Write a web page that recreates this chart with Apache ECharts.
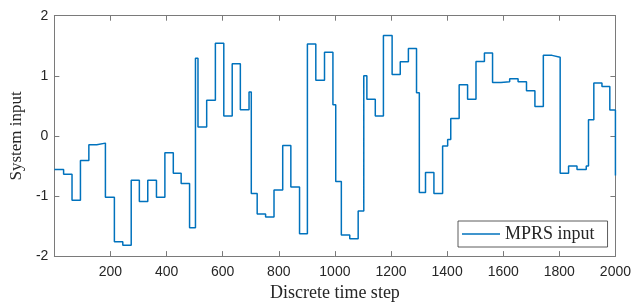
<!DOCTYPE html>
<html>
<head>
<meta charset="utf-8">
<script src="https://cdn.jsdelivr.net/npm/echarts@6/dist/echarts.min.js"></script>
<style>
html,body{margin:0;padding:0;background:#fff;}
#chart{width:634px;height:307px;}
</style>
</head>
<body>
<div id="chart"></div>
<script>
// Step start positions (discrete time step) and held input values
const stepStart = [0,33,63,93,123,151,182,214,244,274,303,333,364,394,424,452,482,503,512,543,574,604,634,663,694,702,723,753,783,814,843,874,902,932,963,993,1003,1023,1053,1083,1103,1114,1144,1173,1204,1233,1262,1291,1301,1323,1353,1384,1402,1413,1443,1473,1503,1533,1562,1592,1623,1653,1683,1713,1743,1774,1803,1833,1863,1896,1904,1923,1952,1980,2000];
const stepValue = [-0.56,-0.64,-1.07,-0.41,-0.149,-0.12,-1.02,-1.76,-1.82,-0.74,-1.09,-0.74,-1.02,-0.28,-0.62,-0.79,-1.53,1.29,0.149,0.595,1.54,0.33,1.2,0.435,0.73,-0.96,-1.30,-1.35,-0.90,-0.16,-0.85,-1.63,1.53,0.925,1.39,0.52,-0.76,-1.65,-1.71,-1.25,1.0,0.61,0.33,1.67,1.02,1.235,1.455,0.72,-0.94,-0.61,-0.96,-0.17,-0.06,0.29,0.85,0.61,1.24,1.38,0.89,0.90,0.95,0.90,0.75,0.49,1.34,1.31,-0.62,-0.50,-0.56,-0.50,0.27,0.88,0.82,0.43,-0.66];
const seriesName = 'MPRS input';
const xTitle = 'Discrete time step';
const yTitle = 'System input';
const xRange = [0, 2000, 200];
const yRange = [-2, 2, 1];

const data = stepStart.map((x, i) => [x, stepValue[i]]);
const axisGray = '#7a7a7a';
const textColor = '#262626';
const serif = '"Liberation Serif", "Times New Roman", serif';
const sans = '"Liberation Sans", Arial, sans-serif';

const chart = echarts.init(document.getElementById('chart'), null, {renderer: 'canvas'});
function baseAxis() {
  return {
    axisLine: {show: true, onZero: false, lineStyle: {color: axisGray, width: 1}},
    axisTick: {show: true, inside: true, length: 5, lineStyle: {color: axisGray, width: 1}},
    splitLine: {show: false}
  };
}
const plain = v => String(v);
chart.setOption({
  animation: false,
  backgroundColor: '#fff',
  grid: {left: 46.5, top: 15.7, width: 570, height: 242, containLabel: false},
  legend: {
    data: [{name: seriesName, icon: 'rect'}],
    left: 458, top: 221,
    orient: 'horizontal',
    itemWidth: 38, itemHeight: 1.6,
    padding: [4, 13, 4, 4],
    borderColor: '#333', borderWidth: 0.8,
    backgroundColor: '#fff',
    textStyle: {fontFamily: serif, fontSize: 18, color: textColor}
  },
  xAxis: [
    Object.assign(baseAxis(), {
      type: 'value', position: 'bottom', min: xRange[0], max: xRange[1], interval: xRange[2],
      axisLabel: {show: true, showMinLabel: false, margin: 9, fontFamily: sans, fontSize: 14, color: textColor, formatter: plain},
      name: xTitle, nameLocation: 'middle', nameGap: 26,
      nameTextStyle: {fontFamily: serif, fontSize: 18, color: textColor}
    }),
    Object.assign(baseAxis(), {
      type: 'value', position: 'top', min: xRange[0], max: xRange[1], interval: xRange[2],
      axisLabel: {show: false}
    })
  ],
  yAxis: [
    Object.assign(baseAxis(), {
      type: 'value', position: 'left', min: yRange[0], max: yRange[1], interval: yRange[2],
      axisLabel: {show: true, margin: 6, fontFamily: sans, fontSize: 14, color: textColor, formatter: plain},
      name: yTitle, nameLocation: 'middle', nameGap: 21,
      nameTextStyle: {fontFamily: serif, fontSize: 17, color: textColor}
    }),
    Object.assign(baseAxis(), {
      type: 'value', position: 'right', min: yRange[0], max: yRange[1], interval: yRange[2],
      axisLabel: {show: false}
    })
  ],
  series: [{
    name: seriesName,
    type: 'line',
    step: 'end',
    xAxisIndex: 0, yAxisIndex: 0,
    data: data,
    showSymbol: false,
    symbol: 'none',
    lineStyle: {color: '#0072BD', width: 1.5},
    itemStyle: {color: '#0072BD'}
  }]
});
</script>
</body>
</html>
